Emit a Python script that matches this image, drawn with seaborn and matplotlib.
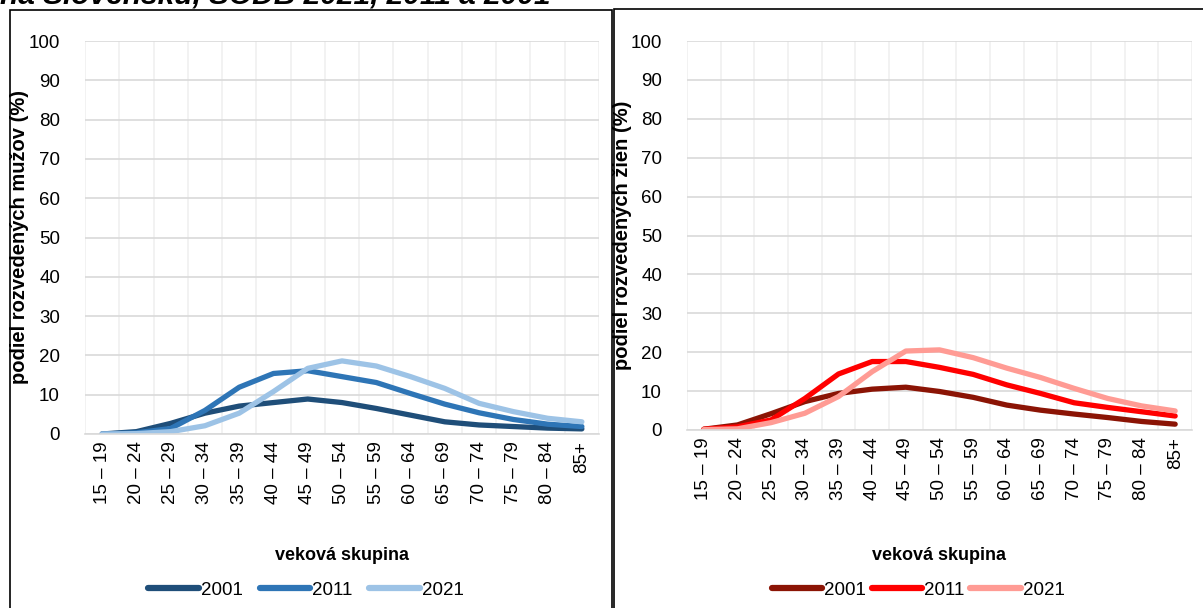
# Podiel rozvedených mužov a žien podľa vekovej skupiny, SODB 2001, 2011, 2021

import numpy as np
import pandas as pd
import matplotlib
matplotlib.use("Agg")
import matplotlib.pyplot as plt
from matplotlib.patches import Rectangle
from matplotlib.ticker import MultipleLocator
import seaborn as sns

# Vekové skupiny
vekove_skupiny = ["15 – 19", "20 – 24", "25 – 29", "30 – 34", "35 – 39", "40 – 44",
                  "45 – 49", "50 – 54", "55 – 59", "60 – 64", "65 – 69", "70 – 74",
                  "75 – 79", "80 – 84", "85+"]
roky = ["2001", "2011", "2021"]

# Muži (%)
muzi_2001 = [0.0, 0.6, 2.7, 5.3, 7.1, 8.0, 8.9, 8.0, 6.5, 4.8, 3.1, 2.3, 1.9, 1.5, 1.3]
muzi_2011 = [0.0, 0.3, 1.4, 6.0, 11.9, 15.4, 16.1, 14.6, 13.1, 10.3, 7.6, 5.4, 3.7, 2.5, 1.9]
muzi_2021 = [0.0, 0.1, 0.6, 2.1, 5.3, 10.8, 16.7, 18.6, 17.3, 14.6, 11.6, 7.8, 5.7, 4.0, 3.1]

# Ženy (%)
zeny_2001 = [0.2, 1.3, 4.2, 7.3, 9.4, 10.5, 11.0, 9.9, 8.4, 6.4, 5.1, 4.1, 3.2, 2.2, 1.5]
zeny_2011 = [0.2, 0.8, 2.6, 8.1, 14.4, 17.6, 17.6, 16.1, 14.3, 11.6, 9.4, 7.0, 5.8, 4.7, 3.6]
zeny_2021 = [0.1, 0.3, 1.9, 4.3, 8.6, 15.0, 20.3, 20.6, 18.6, 15.9, 13.5, 10.7, 8.1, 6.2, 4.9]

farby_muzi = ["#1F4E79", "#2E75B6", "#9DC3E6"]
farby_zeny = ["#8B1405", "#FF0000", "#FF9B94"]


def dlhy_format(serie):
    riadky = []
    for rok, hodnoty in zip(roky, serie):
        for i, h in enumerate(hodnoty):
            riadky.append({"rok": rok, "pos": i, "podiel": h})
    return pd.DataFrame(riadky)


df_muzi = dlhy_format([muzi_2001, muzi_2011, muzi_2021])
df_zeny = dlhy_format([zeny_2001, zeny_2011, zeny_2021])

sns.set_style("white")
plt.rcParams["font.family"] = ["Liberation Sans", "DejaVu Sans"]
plt.rcParams["text.color"] = "black"
plt.rcParams["axes.labelcolor"] = "black"
plt.rcParams["xtick.color"] = "black"
plt.rcParams["ytick.color"] = "black"

W, H = 1203, 608
fig = plt.figure(figsize=(W / 100, H / 100), dpi=100)


def px_box(x0, y_top, x1, y_bottom):
    return [x0 / W, (H - y_bottom) / H, (x1 - x0) / W, (y_bottom - y_top) / H]


# Rámiky panelov
fig.patches.append(Rectangle((10 / W, -0.1), (612 - 10) / W, (H - 10) / H + 0.1,
                             transform=fig.transFigure, fill=False, edgecolor="black", lw=1.2))
fig.patches.append(Rectangle((614 / W, -0.1), (1210 - 614) / W, (H - 9) / H + 0.1,
                             transform=fig.transFigure, fill=False, edgecolor="black", lw=1.2))

# Orezaný nadpis
fig.text(0.0, (H - 3.5) / H, "na Slovensku, SODB 2021, 2011 a 2001", fontsize=21.5,
         fontweight="bold", fontstyle="italic", va="baseline", ha="left")

ax1 = fig.add_axes(px_box(85, 41, 599, 434))
ax2 = fig.add_axes(px_box(687, 41, 1192, 430))


def kresli(ax, df, farby, ylabel, ylabel_x, legenda_x, colsp):
    sns.lineplot(data=df, x="pos", y="podiel", hue="rok", palette=farby, lw=3.8,
                 ax=ax, legend=False, solid_capstyle="round", solid_joinstyle="round")
    ax.set_xlim(-0.5, 14.5)
    ax.set_ylim(0, 100)
    ax.set_yticks(np.arange(0, 101, 10))
    ax.set_xticks(range(len(vekove_skupiny)))
    ax.set_xticklabels(vekove_skupiny, rotation=90, fontsize=13.5)
    ax.xaxis.set_minor_locator(MultipleLocator(0.5))
    ax.tick_params(axis="y", labelsize=13.5, length=0, pad=18)
    ax.tick_params(axis="x", which="both", length=0, pad=5)
    ax.grid(axis="y", which="major", color="#D9D9D9", lw=1.2)
    ax.grid(axis="x", which="minor", color="#F0F0F0", lw=1.2)
    ax.set_axisbelow(True)
    for s in ["top", "right", "left"]:
        ax.spines[s].set_visible(False)
    ax.spines["bottom"].set_color("#D9D9D9")
    ax.spines["bottom"].set_linewidth(1.2)
    ax.set_ylabel(ylabel, fontsize=14.5, fontweight="bold")
    # pevná poloha popisu osi y (v pixeloch obrázka)
    poz = ax.get_position()
    ax.yaxis.set_label_coords((ylabel_x / W - poz.x0) / poz.width, 0.5)
    ax.set_xlabel("")
    # popis osi x a legenda
    stred = poz.x0 + poz.width / 2
    fig.text(stred, (H - 555) / H, "veková skupina", fontsize=13, fontweight="bold",
             ha="center", va="center")
    handles = [plt.Line2D([], [], color=c, lw=4.5, solid_capstyle="round") for c in farby]
    fig.legend(handles, roky, loc="center", bbox_to_anchor=(legenda_x / W, (H - 590) / H),
               ncol=3, frameon=False, fontsize=13.5, handlelength=2.7, handletextpad=0.1,
               columnspacing=colsp, borderaxespad=0)


kresli(ax1, df_muzi, farby_muzi, "podiel rozvedených mužov (%)", 29, 306, 0.9)
kresli(ax2, df_zeny, farby_zeny, "podiel rozvedených žien (%)", 632, 918, 0.3)

fig.savefig("out.png", dpi=100)
